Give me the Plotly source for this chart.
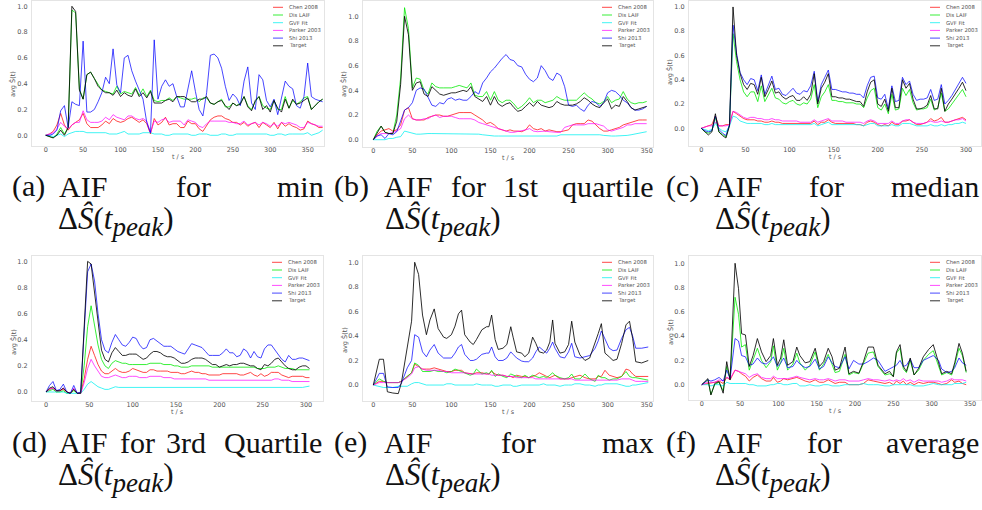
import plotly.graph_objects as go

# ---------------------------------------------------------------------------
# Average normalised signal curves  avg Ŝ(t)  for six AIF selections
# ---------------------------------------------------------------------------
SERIES = ["Chen 2008", "Dis LAIF", "GVF Fit", "Parker 2003", "Shi 2013", "Target"]

# (a) AIF for min  -- time grid in seconds
T_A = list(range(0, 371, 5))
A_CHEN = [0, 0.01, 0.03, 0.08, 0.17, 0.08, 0.04, 0.08, 0.1, 0.12,
          0.17, 0.09, 0.06, 0.06, 0.06, 0.08, 0.11, 0.09, 0.13, 0.11,
          0.1, 0.11, 0.13, 0.14, 0.12, 0.1, 0.12, 0.09, 0.01, 0.13,
          0.08, 0.1, 0.14, 0.08, 0.09, 0.09, 0.06, 0.06, 0.11, 0.09,
          0.09, 0.05, 0.03, 0.08, 0.12, 0.14, 0.15, 0.15, 0.13, 0.12,
          0.1, 0.1, 0.08, 0.1, 0.07, 0.09, 0.1, 0.06, 0.1, 0.08,
          0.06, 0.1, 0.05, 0.1, 0.07, 0.09, 0.07, 0.06, 0.04, 0.05,
          0.11, 0.09, 0.08, 0.06, 0.06]
A_DIS = [0, -0.01, -0.02, 0.01, 0.06, 0.01, 0.06, 0.97, 0.95, 0.36,
         0.28, 0.47, 0.49, 0.44, 0.39, 0.35, 0.34, 0.33, 0.32, 0.38,
         0.32, 0.34, 0.33, 0.32, 0.37, 0.31, 0.36, 0.3, 0.35, 0.27,
         0.26, 0.27, 0.27, 0.29, 0.27, 0.3, 0.29, 0.28, 0.28, 0.28,
         0.29, 0.26, 0.29, 0.29, 0.25, 0.24, 0.26, 0.28, 0.22, 0.22,
         0.25, 0.23, 0.25, 0.3, 0.23, 0.2, 0.26, 0.3, 0.23, 0.21,
         0.2, 0.27, 0.2, 0.2, 0.3, 0.21, 0.27, 0.24, 0.26, 0.29,
         0.3, 0.2, 0.23, 0.26, 0.28]
A_GVF = [0, 0.0, -0.01, 0.0, 0.01, -0.01, 0.01, 0.02, 0.03, 0.03,
         0.03, 0.02, 0.02, 0.02, 0.02, 0.02, 0.02, 0.01, 0.01, 0.01,
         0.02, 0.03, 0.01, 0.01, 0.01, 0.01, 0.02, 0.02, 0.02, 0.01,
         0.01, 0.01, 0.0, 0.0, 0.01, 0.01, 0.01, 0.01, 0.01, 0.0,
         0.0, 0.01, 0.01, 0.01, 0.0, 0.0, 0.0, 0.01, 0.01, 0.0,
         0.0, 0.01, 0.01, 0.01, 0.01, 0.01, 0.01, 0.01, 0.01, 0.01,
         0.0, 0.0, 0.01, 0.01, 0.0, 0.01, 0.01, 0.01, 0.01, 0.01,
         0.02, 0.0, 0.01, 0.02, 0.04]
A_PARKER = [0, 0.01, 0.02, 0.05, 0.1, 0.07, 0.05, 0.08, 0.1, 0.1,
            0.19, 0.12, 0.1, 0.1, 0.1, 0.11, 0.14, 0.12, 0.16, 0.14,
            0.13, 0.12, 0.15, 0.15, 0.13, 0.12, 0.13, 0.11, 0.02, 0.11,
            0.1, 0.12, 0.13, 0.1, 0.11, 0.11, 0.11, 0.08, 0.12, 0.11,
            0.1, 0.07, 0.06, 0.09, 0.11, 0.11, 0.11, 0.11, 0.11, 0.1,
            0.1, 0.09, 0.09, 0.11, 0.08, 0.09, 0.1, 0.08, 0.1, 0.09,
            0.07, 0.09, 0.07, 0.1, 0.09, 0.1, 0.09, 0.08, 0.06, 0.06,
            0.1, 0.09, 0.08, 0.07, 0.07]
A_SHI = [0, 0.0, 0.01, 0.04, 0.19, 0.23, 0.06, 0.26, 0.24, 0.23,
         0.73, 0.18, 0.18, 0.2, 0.26, 0.33, 0.45, 0.4, 0.67, 0.39,
         0.33, 0.6, 0.62, 0.5, 0.42, 0.35, 0.28, 0.1, 0.02, 0.74,
         0.28, 0.38, 0.43, 0.38, 0.4, 0.3, 0.22, 0.22, 0.35, 0.5,
         0.34, 0.2, 0.15, 0.33, 0.62, 0.63, 0.6, 0.52, 0.38, 0.27,
         0.32, 0.29, 0.23, 0.42, 0.53, 0.25, 0.2, 0.47, 0.43, 0.27,
         0.22, 0.28, 0.16, 0.3, 0.42, 0.38, 0.36, 0.23, 0.21, 0.3,
         0.56, 0.3, 0.28, 0.27, 0.26]
A_TARGET = [0, -0.01, -0.02, 0.0, 0.04, 0.0, 0.06, 1.0, 0.96, 0.35,
            0.28, 0.47, 0.49, 0.44, 0.38, 0.35, 0.33, 0.33, 0.31, 0.35,
            0.3, 0.33, 0.31, 0.3, 0.36, 0.3, 0.33, 0.29, 0.34, 0.25,
            0.25, 0.25, 0.27, 0.28, 0.26, 0.3, 0.3, 0.3, 0.28, 0.26,
            0.26, 0.28, 0.28, 0.3, 0.25, 0.24, 0.26, 0.27, 0.23, 0.2,
            0.25, 0.23, 0.24, 0.3, 0.22, 0.19, 0.27, 0.3, 0.2, 0.23,
            0.18, 0.27, 0.21, 0.18, 0.28, 0.21, 0.28, 0.24, 0.25, 0.27,
            0.29, 0.2, 0.23, 0.26, 0.28]

# (b) AIF for 1st quartile
T_B = list(range(0, 351, 5))
B_CHEN = [0, 0.04, 0.07, 0.08, 0.09, 0.07, 0.08, 0.12, 0.24, 0.26,
          0.17, 0.16, 0.16, 0.16, 0.18, 0.19, 0.2, 0.2, 0.19, 0.19,
          0.2, 0.21, 0.22, 0.22, 0.22, 0.22, 0.2, 0.18, 0.16, 0.13,
          0.14, 0.12, 0.09, 0.08, 0.07, 0.08, 0.07, 0.07, 0.065, 0.08,
          0.12, 0.09, 0.08, 0.09, 0.07, 0.08, 0.07, 0.065, 0.065, 0.07,
          0.08, 0.12, 0.13, 0.13, 0.13, 0.16, 0.15, 0.12, 0.09, 0.07,
          0.07, 0.08, 0.09, 0.1, 0.12, 0.13, 0.14, 0.155, 0.16, 0.16,
          0.16]
B_DIS = [0, 0.07, 0.11, 0.06, 0.05, 0.05, 0.2, 0.5, 1.07, 0.9,
         0.42, 0.5, 0.49, 0.4, 0.37, 0.46, 0.43, 0.42, 0.42, 0.42,
         0.42, 0.43, 0.44, 0.43, 0.42, 0.46, 0.36, 0.35, 0.35, 0.39,
         0.32, 0.39, 0.32, 0.3, 0.32, 0.32, 0.29, 0.25, 0.27, 0.3,
         0.34, 0.3, 0.32, 0.32, 0.3, 0.31, 0.32, 0.35, 0.33, 0.32,
         0.32, 0.32, 0.32, 0.35, 0.38, 0.35, 0.33, 0.3, 0.29, 0.31,
         0.35, 0.3, 0.32, 0.33, 0.39, 0.33, 0.3, 0.29, 0.3, 0.3,
         0.31]
B_GVF = [0, 0.0, 0.0, 0.0, 0.01, 0.01, 0.02, 0.025, 0.07, 0.06,
         0.05, 0.045, 0.045, 0.05, 0.05, 0.05, 0.05, 0.05, 0.05, 0.05,
         0.05, 0.05, 0.05, 0.05, 0.05, 0.05, 0.045, 0.045, 0.04, 0.035,
         0.03, 0.03, 0.03, 0.03, 0.025, 0.025, 0.025, 0.03, 0.03, 0.03,
         0.03, 0.03, 0.03, 0.03, 0.025, 0.025, 0.03, 0.03, 0.04, 0.04,
         0.04, 0.04, 0.04, 0.04, 0.04, 0.04, 0.045, 0.045, 0.04, 0.035,
         0.03, 0.03, 0.03, 0.03, 0.03, 0.035, 0.04, 0.045, 0.05, 0.06,
         0.065]
B_PARKER = [0, 0.03, 0.05, 0.05, 0.05, 0.06, 0.07, 0.09, 0.17, 0.2,
            0.17, 0.16, 0.16, 0.17, 0.17, 0.19, 0.2, 0.18, 0.19, 0.19,
            0.19, 0.18, 0.17, 0.17, 0.17, 0.17, 0.16, 0.14, 0.13, 0.12,
            0.11, 0.1, 0.09, 0.08, 0.065, 0.06, 0.06, 0.065, 0.07, 0.08,
            0.09, 0.07, 0.065, 0.07, 0.07, 0.065, 0.06, 0.06, 0.06, 0.1,
            0.11, 0.12, 0.12, 0.12, 0.12, 0.13, 0.13, 0.13, 0.12, 0.11,
            0.08, 0.07, 0.08, 0.09, 0.1, 0.12, 0.12, 0.13, 0.13, 0.13,
            0.13]
B_SHI = [0, 0.03, 0.04, 0.01, 0.05, 0.04, 0.065, 0.15, 0.24, 0.26,
         0.3, 0.4, 0.42, 0.41, 0.35, 0.28, 0.27, 0.3, 0.29, 0.33,
         0.34, 0.32, 0.33, 0.32, 0.32, 0.35, 0.39, 0.37, 0.46, 0.5,
         0.55, 0.58, 0.62, 0.66, 0.69, 0.65, 0.64, 0.6, 0.59, 0.53,
         0.49, 0.47, 0.5, 0.6, 0.56, 0.5, 0.48, 0.54, 0.52, 0.43,
         0.28, 0.27, 0.28, 0.25, 0.23, 0.28, 0.31, 0.3, 0.27, 0.3,
         0.38, 0.4, 0.39, 0.36, 0.32, 0.3, 0.26, 0.24, 0.24, 0.25,
         0.27]
B_TARGET = [0, 0.06, 0.11, 0.06, 0.05, 0.05, 0.15, 0.45, 1.0, 0.85,
            0.4, 0.46, 0.47, 0.37, 0.35, 0.43, 0.4, 0.37, 0.36, 0.37,
            0.38, 0.38, 0.39, 0.4, 0.39, 0.43, 0.35, 0.33, 0.31, 0.35,
            0.28, 0.35, 0.29, 0.27, 0.29, 0.3, 0.26, 0.23, 0.24, 0.27,
            0.3, 0.27, 0.31, 0.28, 0.27, 0.26, 0.27, 0.31, 0.29, 0.28,
            0.28, 0.28, 0.29, 0.31, 0.34, 0.32, 0.29, 0.27, 0.26, 0.3,
            0.33, 0.25, 0.28, 0.27, 0.35, 0.31, 0.26, 0.24, 0.25, 0.26,
            0.27]

# (c) AIF for median
T_C = list(range(0, 301, 4))
C_CHEN = [0, 0.01, 0.02, 0.03, 0.1, 0.02, 0.02, 0.03, 0.03, 0.14,
          0.12, 0.1, 0.08, 0.07, 0.07, 0.07, 0.06, 0.06, 0.05, 0.05,
          0.06, 0.05, 0.05, 0.04, 0.04, 0.04, 0.04, 0.04, 0.04, 0.04,
          0.04, 0.04, 0.06, 0.03, 0.05, 0.05, 0.07, 0.05, 0.04, 0.04,
          0.04, 0.04, 0.04, 0.04, 0.03, 0.03, 0.02, 0.05, 0.06, 0.05,
          0.03, 0.02, 0.03, 0.02, 0.05, 0.03, 0.03, 0.06, 0.06, 0.07,
          0.05, 0.03, 0.03, 0.04, 0.05, 0.08, 0.06, 0.07, 0.09, 0.05,
          0.05, 0.06, 0.07, 0.08, 0.09, 0.07]
C_DIS = [0, -0.03, -0.04, -0.02, 0.09, -0.03, -0.05, -0.07, 0.03, 0.78,
         0.55, 0.4, 0.3, 0.26, 0.3, 0.3, 0.22, 0.35, 0.22, 0.27,
         0.33, 0.25, 0.24, 0.21, 0.2, 0.22, 0.23, 0.2, 0.19, 0.21,
         0.2, 0.24, 0.36, 0.17, 0.26, 0.3, 0.36, 0.23, 0.23, 0.22,
         0.22, 0.21, 0.21, 0.21, 0.2, 0.2, 0.17, 0.25, 0.31, 0.33,
         0.17, 0.15, 0.2, 0.12, 0.28, 0.15, 0.16, 0.33, 0.27, 0.32,
         0.21, 0.15, 0.16, 0.16, 0.17, 0.24, 0.15, 0.17, 0.29, 0.14,
         0.16, 0.2, 0.24, 0.28, 0.32, 0.26]
C_GVF = [0, -0.01, -0.02, -0.01, 0.04, 0.0, -0.02, -0.03, 0.02, 0.1,
         0.09, 0.06, 0.05, 0.04, 0.04, 0.04, 0.04, 0.04, 0.03, 0.03,
         0.04, 0.03, 0.03, 0.03, 0.03, 0.03, 0.03, 0.03, 0.03, 0.03,
         0.03, 0.03, 0.04, 0.02, 0.03, 0.04, 0.05, 0.03, 0.03, 0.03,
         0.03, 0.03, 0.03, 0.03, 0.03, 0.03, 0.02, 0.03, 0.04, 0.04,
         0.02, 0.02, 0.02, 0.02, 0.03, 0.02, 0.02, 0.04, 0.04, 0.04,
         0.03, 0.02, 0.02, 0.02, 0.02, 0.03, 0.02, 0.02, 0.03, 0.02,
         0.03, 0.03, 0.04, 0.04, 0.05, 0.04]
C_PARKER = [0, 0.01, 0.02, 0.02, 0.05, 0.02, 0.02, 0.02, 0.03, 0.14,
            0.13, 0.11, 0.09, 0.08, 0.09, 0.09, 0.08, 0.08, 0.07, 0.07,
            0.08, 0.07, 0.07, 0.06, 0.06, 0.06, 0.06, 0.06, 0.05, 0.05,
            0.05, 0.05, 0.07, 0.05, 0.06, 0.07, 0.08, 0.06, 0.06, 0.06,
            0.06, 0.05, 0.05, 0.05, 0.05, 0.05, 0.04, 0.06, 0.07, 0.06,
            0.04, 0.04, 0.04, 0.04, 0.06, 0.04, 0.04, 0.06, 0.07, 0.07,
            0.05, 0.04, 0.04, 0.04, 0.05, 0.06, 0.05, 0.05, 0.06, 0.05,
            0.05, 0.06, 0.07, 0.07, 0.08, 0.06]
C_SHI = [0, -0.02, -0.03, -0.02, 0.1, -0.01, -0.04, -0.06, 0.03, 0.85,
         0.62, 0.46, 0.4, 0.36, 0.41, 0.4, 0.31, 0.44, 0.28, 0.36,
         0.43, 0.32, 0.33, 0.28, 0.27, 0.3, 0.33, 0.29, 0.28, 0.31,
         0.3, 0.35, 0.47, 0.22, 0.36, 0.42, 0.48, 0.32, 0.32, 0.31,
         0.3, 0.3, 0.29, 0.29, 0.28, 0.28, 0.25, 0.35, 0.42, 0.43,
         0.25, 0.24, 0.28, 0.16, 0.35, 0.22, 0.23, 0.42, 0.36, 0.39,
         0.28, 0.23, 0.24, 0.24, 0.25, 0.32, 0.23, 0.24, 0.36, 0.2,
         0.23, 0.27, 0.32, 0.37, 0.42, 0.37]
C_TARGET = [0, -0.03, -0.055, -0.03, 0.12, -0.03, -0.06, -0.08, 0.02, 1.0,
            0.6, 0.45, 0.36, 0.32, 0.37, 0.36, 0.28, 0.42, 0.26, 0.32,
            0.39, 0.29, 0.3, 0.26, 0.24, 0.26, 0.27, 0.23, 0.23, 0.26,
            0.23, 0.28, 0.45, 0.2, 0.33, 0.38, 0.45, 0.26, 0.26, 0.25,
            0.25, 0.24, 0.24, 0.23, 0.22, 0.22, 0.18, 0.3, 0.38, 0.4,
            0.2, 0.18, 0.24, 0.14, 0.33, 0.17, 0.17, 0.4, 0.33, 0.37,
            0.24, 0.16, 0.16, 0.17, 0.19, 0.27, 0.16, 0.16, 0.33, 0.14,
            0.2, 0.24, 0.28, 0.33, 0.38, 0.31]

# (d) AIF for 3rd quartile
T_D = list(range(0, 305, 4))
D_CHEN = [0, 0.02, 0.03, 0.0, 0.01, 0.02, 0.0, -0.01, 0.02, -0.01,
          -0.01, 0.1, 0.25, 0.35, 0.28, 0.21, 0.16, 0.14, 0.14, 0.16,
          0.18, 0.16, 0.15, 0.15, 0.16, 0.18, 0.17, 0.16, 0.15, 0.15,
          0.17, 0.17, 0.16, 0.16, 0.16, 0.16, 0.15, 0.15, 0.15, 0.14,
          0.14, 0.15, 0.16, 0.15, 0.15, 0.14, 0.14, 0.13, 0.13, 0.13,
          0.13, 0.14, 0.14, 0.14, 0.14, 0.14, 0.13, 0.13, 0.14, 0.15,
          0.13, 0.12, 0.14, 0.12, 0.13, 0.15, 0.15, 0.15, 0.13, 0.12,
          0.11, 0.12, 0.12, 0.12, 0.12, 0.11, 0.11]
D_DIS = [0, 0.01, 0.02, 0.0, 0.0, 0.01, -0.01, -0.01, 0.01, -0.01,
         -0.01, 0.2, 0.5, 0.66, 0.5, 0.36, 0.25, 0.2, 0.18, 0.22,
         0.24, 0.23, 0.22, 0.22, 0.21, 0.21, 0.21, 0.21, 0.21, 0.21,
         0.22, 0.22, 0.22, 0.22, 0.21, 0.21, 0.21, 0.2, 0.2, 0.19,
         0.19, 0.19, 0.2, 0.2, 0.2, 0.2, 0.2, 0.2, 0.19, 0.19,
         0.19, 0.19, 0.19, 0.19, 0.19, 0.19, 0.19, 0.19, 0.19, 0.19,
         0.19, 0.18, 0.18, 0.18, 0.19, 0.19, 0.19, 0.2, 0.19, 0.18,
         0.18, 0.18, 0.17, 0.17, 0.17, 0.17, 0.17]
D_GVF = [0, 0.0, 0.0, 0.0, 0.0, 0.0, -0.01, -0.01, -0.01, -0.01,
         -0.01, 0.02, 0.06, 0.08, 0.06, 0.04, 0.03, 0.02, 0.02, 0.03,
         0.04, 0.035, 0.035, 0.035, 0.035, 0.035, 0.035, 0.035, 0.03, 0.03,
         0.035, 0.035, 0.035, 0.035, 0.035, 0.035, 0.035, 0.03, 0.03, 0.03,
         0.03, 0.03, 0.03, 0.03, 0.03, 0.03, 0.03, 0.03, 0.03, 0.03,
         0.03, 0.03, 0.03, 0.03, 0.03, 0.03, 0.03, 0.03, 0.03, 0.03,
         0.03, 0.03, 0.03, 0.03, 0.03, 0.03, 0.03, 0.03, 0.03, 0.03,
         0.03, 0.03, 0.03, 0.035, 0.035, 0.04, 0.045]
D_PARKER = [0, 0.02, 0.03, 0.01, 0.01, 0.03, 0.0, -0.01, 0.03, -0.01,
            -0.01, 0.07, 0.18, 0.25, 0.2, 0.16, 0.12, 0.11, 0.11, 0.12,
            0.13, 0.12, 0.11, 0.11, 0.12, 0.12, 0.12, 0.11, 0.11, 0.11,
            0.12, 0.12, 0.12, 0.12, 0.11, 0.11, 0.11, 0.1, 0.1, 0.1,
            0.1, 0.1, 0.1, 0.1, 0.1, 0.1, 0.1, 0.09, 0.09, 0.09,
            0.09, 0.09, 0.09, 0.09, 0.09, 0.09, 0.09, 0.09, 0.09, 0.09,
            0.09, 0.09, 0.09, 0.09, 0.09, 0.09, 0.1, 0.1, 0.09, 0.09,
            0.09, 0.08, 0.08, 0.08, 0.08, 0.08, 0.08]
D_SHI = [0, 0.05, 0.08, 0.01, 0.02, 0.06, 0.0, -0.01, 0.05, -0.01,
         0.0, 0.5, 0.92, 0.98, 0.85, 0.6, 0.4, 0.32, 0.3, 0.38,
         0.44, 0.4, 0.36, 0.35, 0.38, 0.42, 0.41, 0.36, 0.33, 0.34,
         0.4, 0.41, 0.39, 0.37, 0.35, 0.35, 0.35, 0.33, 0.31, 0.3,
         0.29, 0.33, 0.37, 0.36, 0.35, 0.34, 0.31, 0.28, 0.28, 0.28,
         0.28, 0.3, 0.33, 0.3, 0.3, 0.27, 0.28, 0.33, 0.31, 0.26,
         0.31, 0.27, 0.26, 0.33, 0.36, 0.36, 0.32, 0.28, 0.25, 0.23,
         0.28, 0.25, 0.25, 0.26, 0.26, 0.25, 0.24]
D_TARGET = [0, 0.03, 0.04, 0.01, 0.01, 0.03, 0.0, -0.01, 0.02, -0.01,
            -0.01, 0.5, 1.0, 0.98, 0.75, 0.5, 0.32, 0.25, 0.23, 0.3,
            0.34, 0.31, 0.28, 0.28, 0.29, 0.29, 0.29, 0.27, 0.25, 0.26,
            0.29, 0.31, 0.31, 0.3, 0.28, 0.27, 0.27, 0.26, 0.24, 0.22,
            0.22, 0.23, 0.25, 0.26, 0.26, 0.26, 0.25, 0.23, 0.21, 0.21,
            0.19, 0.2, 0.21, 0.2, 0.21, 0.21, 0.22, 0.22, 0.21, 0.2,
            0.2, 0.18, 0.17, 0.21, 0.2, 0.22, 0.25, 0.26, 0.23, 0.2,
            0.18, 0.17, 0.17, 0.19, 0.2, 0.2, 0.18]

# (e) AIF for max
T_E = [0, 7.7, 13, 18, 25, 32, 36, 43.5, 49, 53,
       58, 63, 68, 72.5, 78, 83, 90, 94, 100, 104.6,
       109, 113, 117, 124, 128, 132, 139, 145, 148, 151.5,
       156, 160, 166, 171, 176, 179, 183.5, 190, 194, 199,
       204, 208, 212.5, 218, 222, 226, 229.6, 232.6, 239, 245,
       250, 254, 258, 264.6, 271, 277, 284, 288, 292, 296.6,
       302, 307, 312, 318, 323.5, 328, 332, 336, 343.6, 352]
E_CHEN = [0, 0.03, 0.03, 0.02, 0.02, 0.02, 0.03, 0.07, 0.1, 0.17,
          0.15, 0.13, 0.13, 0.13, 0.14, 0.13, 0.12, 0.11, 0.11, 0.12,
          0.12, 0.12, 0.1, 0.09, 0.09, 0.1, 0.1, 0.09, 0.09, 0.11,
          0.09, 0.08, 0.08, 0.07, 0.07, 0.06, 0.08, 0.07, 0.07, 0.06,
          0.07, 0.08, 0.1, 0.08, 0.07, 0.06, 0.07, 0.08, 0.05, 0.05,
          0.05, 0.06, 0.07, 0.08, 0.06, 0.05, 0.05, 0.07, 0.07, 0.12,
          0.08, 0.07, 0.06, 0.07, 0.13, 0.12, 0.09, 0.07, 0.07, 0.07]
E_DIS = [0, 0.05, 0.03, 0.02, 0.02, 0.02, 0.03, 0.07, 0.1, 0.18,
         0.16, 0.11, 0.11, 0.11, 0.12, 0.11, 0.11, 0.1, 0.11, 0.13,
         0.12, 0.11, 0.1, 0.08, 0.09, 0.13, 0.09, 0.1, 0.09, 0.12,
         0.07, 0.09, 0.07, 0.06, 0.09, 0.08, 0.07, 0.06, 0.08, 0.06,
         0.08, 0.07, 0.06, 0.07, 0.06, 0.08, 0.1, 0.08, 0.06, 0.05,
         0.06, 0.09, 0.05, 0.05, 0.09, 0.05, 0.03, 0.08, 0.06, 0.06,
         0.04, 0.05, 0.05, 0.07, 0.11, 0.07, 0.06, 0.06, 0.05, 0.04]
E_GVF = [0, -0.01, -0.02, -0.02, -0.02, -0.01, -0.01, -0.01, 0.01, 0.02,
         0.02, 0.01, 0.0, 0.0, 0.0, 0.0, 0.0, 0.01, 0.01, 0.0,
         0.0, 0.0, 0.0, 0.0, 0.0, 0.01, 0.0, 0.0, 0.0, 0.0,
         -0.01, -0.01, 0.0, 0.0, 0.0, -0.01, -0.01, 0.0, 0.0, 0.0,
         0.0, 0.0, 0.0, 0.01, 0.0, 0.0, 0.0, 0.0, -0.01, 0.0,
         0.0, 0.0, 0.01, 0.01, 0.0, 0.0, -0.01, 0.0, 0.0, 0.01,
         0.01, 0.01, 0.01, 0.0, -0.01, -0.01, 0.0, 0.0, 0.01, 0.02]
E_PARKER = [0, 0.02, 0.02, 0.02, 0.02, 0.02, 0.03, 0.06, 0.09, 0.14,
            0.15, 0.13, 0.12, 0.12, 0.12, 0.12, 0.11, 0.11, 0.1, 0.1,
            0.1, 0.1, 0.1, 0.09, 0.09, 0.09, 0.09, 0.09, 0.09, 0.08,
            0.08, 0.08, 0.08, 0.07, 0.07, 0.07, 0.06, 0.06, 0.06, 0.06,
            0.06, 0.05, 0.05, 0.05, 0.05, 0.05, 0.05, 0.05, 0.05, 0.05,
            0.05, 0.05, 0.04, 0.04, 0.04, 0.04, 0.04, 0.04, 0.04, 0.04,
            0.04, 0.04, 0.04, 0.05, 0.05, 0.05, 0.04, 0.03, 0.03, 0.03]
E_SHI = [0, 0.095, 0.095, -0.015, -0.02, -0.02, 0.015, 0.14, 0.2, 0.41,
         0.39, 0.27, 0.23, 0.285, 0.33, 0.26, 0.22, 0.22, 0.22, 0.26,
         0.31, 0.33, 0.25, 0.2, 0.2, 0.21, 0.25, 0.26, 0.26, 0.31,
         0.23, 0.2, 0.2, 0.22, 0.27, 0.25, 0.22, 0.195, 0.19, 0.19,
         0.22, 0.27, 0.31, 0.28, 0.26, 0.3, 0.35, 0.3, 0.23, 0.22,
         0.27, 0.34, 0.23, 0.22, 0.23, 0.24, 0.3, 0.36, 0.44, 0.38,
         0.3, 0.28, 0.285, 0.38, 0.45, 0.47, 0.4, 0.3, 0.3, 0.31]
E_TARGET = [0, 0.21, 0.21, -0.055, -0.065, -0.07, 0.02, 0.33, 0.52, 1.0,
            0.9, 0.57, 0.41, 0.53, 0.62, 0.46, 0.39, 0.38, 0.41, 0.48,
            0.58, 0.61, 0.41, 0.35, 0.33, 0.37, 0.45, 0.475, 0.475, 0.57,
            0.37, 0.29, 0.3, 0.33, 0.475, 0.39, 0.27, 0.26, 0.23, 0.26,
            0.39, 0.34, 0.27, 0.26, 0.285, 0.35, 0.53, 0.34, 0.26, 0.27,
            0.33, 0.52, 0.35, 0.245, 0.2, 0.22, 0.34, 0.42, 0.5, 0.26,
            0.23, 0.2, 0.21, 0.34, 0.49, 0.52, 0.38, 0.19, 0.18, 0.2]

# (f) AIF for average
T_F = [0, 8, 12, 17, 22.6, 28, 32.6, 37, 43.5, 48,
       52, 57, 62, 67, 72.6, 78, 84, 90, 93.5, 98.7,
       103, 107, 112, 119, 124, 128, 135, 141, 148, 153.5,
       159, 165, 170, 174, 179.6, 187, 192, 198, 205, 211,
       217, 224, 230, 239, 245, 250, 254, 258.7, 263, 267,
       272, 277, 283, 289, 296, 302, 309, 313, 319.6, 326,
       330, 335.6, 340, 345]
F_CHEN = [0, 0.01, 0.01, 0.02, 0.03, 0.01, 0.06, 0.04, 0.12, 0.11,
          0.09, 0.07, 0.03, 0.06, 0.08, 0.05, 0.03, 0.03, 0.06, 0.02,
          0.03, 0.05, 0.04, 0.05, 0.06, 0.05, 0.03, 0.02, 0.04, 0.02,
          0.02, 0.04, 0.02, 0.01, 0.02, 0.02, 0.0, 0.0, 0.0, 0.01,
          0.04, 0.03, 0.02, 0.01, 0.02, 0.0, 0.03, 0.01, 0.03, 0.0,
          0.02, 0.0, 0.02, 0.01, 0.02, 0.02, 0.01, 0.0, 0.01, 0.04,
          0.02, 0.03, 0.01, 0.0]
F_DIS = [0, 0.04, -0.08, 0.0, 0.02, -0.05, 0.15, 0.05, 0.72, 0.58,
         0.31, 0.33, 0.12, 0.2, 0.3, 0.2, 0.14, 0.19, 0.32, 0.12,
         0.18, 0.3, 0.12, 0.17, 0.26, 0.18, 0.12, 0.16, 0.27, 0.12,
         0.17, 0.25, 0.16, 0.1, 0.11, 0.25, 0.08, 0.1, 0.09, 0.17,
         0.26, 0.27, 0.15, 0.08, 0.09, 0.07, 0.26, 0.3, 0.13, 0.1,
         0.2, 0.08, 0.12, 0.2, 0.25, 0.28, 0.16, 0.08, 0.1, 0.08,
         0.16, 0.3, 0.24, 0.1]
F_GVF = [0, 0.0, -0.01, 0.0, 0.0, -0.01, 0.02, 0.01, 0.01, 0.01,
         0.01, 0.01, 0.0, 0.0, -0.01, -0.01, -0.01, 0.0, 0.0, 0.01,
         0.01, 0.0, 0.0, 0.01, 0.01, -0.01, -0.01, 0.0, -0.01, -0.01,
         0.0, 0.0, -0.01, -0.01, -0.01, 0.0, 0.0, 0.0, 0.0, 0.01,
         0.0, 0.0, 0.0, -0.01, -0.01, 0.0, 0.0, 0.0, 0.0, 0.0,
         0.0, -0.01, -0.01, -0.01, 0.0, 0.01, 0.0, 0.0, 0.0, 0.0,
         0.01, 0.01, 0.01, 0.02]
F_PARKER = [0, 0.02, 0.02, 0.02, 0.04, 0.03, 0.06, 0.05, 0.12, 0.11,
            0.1, 0.09, 0.06, 0.08, 0.09, 0.06, 0.05, 0.05, 0.07, 0.05,
            0.05, 0.05, 0.05, 0.06, 0.07, 0.06, 0.05, 0.04, 0.05, 0.04,
            0.04, 0.05, 0.04, 0.03, 0.04, 0.04, 0.03, 0.03, 0.03, 0.04,
            0.05, 0.04, 0.04, 0.03, 0.04, 0.03, 0.04, 0.03, 0.05, 0.03,
            0.04, 0.02, 0.04, 0.03, 0.03, 0.03, 0.03, 0.02, 0.03, 0.05,
            0.04, 0.04, 0.04, 0.03]
F_SHI = [0, 0.04, 0.03, 0.04, 0.06, 0.03, 0.12, 0.05, 0.38, 0.36,
         0.24, 0.23, 0.16, 0.17, 0.22, 0.18, 0.17, 0.2, 0.23, 0.15,
         0.18, 0.22, 0.14, 0.15, 0.2, 0.17, 0.14, 0.15, 0.21, 0.13,
         0.15, 0.23, 0.18, 0.15, 0.14, 0.23, 0.13, 0.2, 0.17, 0.17,
         0.19, 0.22, 0.2, 0.11, 0.13, 0.15, 0.16, 0.2, 0.15, 0.16,
         0.21, 0.14, 0.14, 0.2, 0.22, 0.24, 0.2, 0.13, 0.1, 0.11,
         0.14, 0.22, 0.18, 0.16]
F_TARGET = [0, 0.05, -0.085, 0.01, 0.025, -0.07, 0.19, 0.04, 1.0, 0.79,
            0.42, 0.41, 0.15, 0.24, 0.38, 0.27, 0.19, 0.24, 0.38, 0.16,
            0.22, 0.37, 0.16, 0.19, 0.31, 0.24, 0.18, 0.19, 0.3, 0.15,
            0.19, 0.3, 0.23, 0.12, 0.135, 0.31, 0.09, 0.11, 0.095, 0.19,
            0.31, 0.31, 0.16, 0.09, 0.11, 0.065, 0.27, 0.33, 0.15, 0.11,
            0.22, 0.08, 0.135, 0.23, 0.29, 0.33, 0.18, 0.09, 0.11, 0.09,
            0.18, 0.34, 0.26, 0.11]

X_TICKS_350 = [0, 50, 100, 150, 200, 250, 300, 350]
X_TICKS_300 = [0, 50, 100, 150, 200, 250, 300]
Y_TICKS = [0.0, 0.2, 0.4, 0.6, 0.8, 1.0]

# ---------------------------------------------------------------------------
# Styling
# ---------------------------------------------------------------------------
W, H = 982, 510
LINE_COLORS = {
    "Chen 2008": "rgba(255,0,0,0.72)",
    "Dis LAIF": "rgba(0,235,0,0.78)",
    "GVF Fit": "rgba(0,240,240,0.75)",
    "Parker 2003": "rgba(255,0,255,0.7)",
    "Shi 2013": "rgba(0,0,255,0.72)",
    "Target": "rgba(0,0,0,0.82)",
}
TICK_FONT = dict(family="DejaVu Sans", size=6.5, color="#555555")
FRAME = "#e4e4e4"
SERIF = "Liberation Serif"

# panel placement in pixels (frame box) and axis ranges
PANELS = [
    dict(t=T_A, ys=[A_CHEN, A_DIS, A_GVF, A_PARKER, A_SHI, A_TARGET],
         box=(32, 324, 1, 146), xr=[-18.3, 371.8], yr=[-0.083, 1.041],
         xt=X_TICKS_350, ylab_y=84),
    dict(t=T_B, ys=[B_CHEN, B_DIS, B_GVF, B_PARKER, B_SHI, B_TARGET],
         box=(363, 653, 1, 147), xr=[-13.2, 358.1], yr=[-0.059, 1.124],
         xt=X_TICKS_350, ylab_y=84),
    dict(t=T_C, ys=[C_CHEN, C_DIS, C_GVF, C_PARKER, C_SHI, C_TARGET],
         box=(689, 981, 1, 146), xr=[-13.9, 317.0], yr=[-0.146, 1.049],
         xt=X_TICKS_300, ylab_y=72),
    dict(t=T_D, ys=[D_CHEN, D_DIS, D_GVF, D_PARKER, D_SHI, D_TARGET],
         box=(32, 323, 256, 401), xr=[-16.2, 319.6], yr=[-0.069, 1.041],
         xt=X_TICKS_300, ylab_y=342),
    dict(t=T_E, ys=[E_CHEN, E_DIS, E_GVF, E_PARKER, E_SHI, E_TARGET],
         box=(363, 653, 256, 401), xr=[-13.2, 358.1], yr=[-0.13, 1.051],
         xt=X_TICKS_350, ylab_y=340),
    dict(t=T_F, ys=[F_CHEN, F_DIS, F_GVF, F_PARKER, F_SHI, F_TARGET],
         box=(689, 981, 256, 400), xr=[-16.6, 364.3], yr=[-0.126, 1.06],
         xt=X_TICKS_350, ylab_y=332),
]


def fx(px):
    return px / W


def fy(px):
    return 1 - px / H


fig = go.Figure()
shapes = []
annotations = []

for i, p in enumerate(PANELS, start=1):
    suffix = "" if i == 1 else str(i)
    left, right, top, bottom = p["box"]
    for name, vals in zip(SERIES, p["ys"]):
        fig.add_trace(go.Scatter(
            x=p["t"], y=vals, mode="lines", name=name,
            line=dict(color=LINE_COLORS[name], width=1),
            xaxis="x" + suffix, yaxis="y" + suffix,
            showlegend=False, hoverinfo="skip",
        ))
    fig.layout["xaxis" + suffix] = dict(
        domain=[fx(left), fx(right)], range=p["xr"], anchor="y" + suffix,
        showline=True, mirror=True, linecolor=FRAME, linewidth=1,
        showgrid=False, zeroline=False, ticks="",
        tickvals=p["xt"], tickfont=TICK_FONT, ticklabelstandoff=-3,
    )
    fig.layout["yaxis" + suffix] = dict(
        domain=[fy(bottom), fy(top)], range=p["yr"], anchor="x" + suffix,
        showline=True, mirror=True, linecolor=FRAME, linewidth=1,
        showgrid=False, zeroline=False, ticks="",
        tickvals=Y_TICKS, tickformat=".1f", tickfont=TICK_FONT,
        ticklabelstandoff=2,
    )
    # axis titles
    annotations.append(dict(
        text="t / s", x=fx((left + right) / 2), y=fy(bottom + 11),
        xref="paper", yref="paper", showarrow=False,
        xanchor="center", yanchor="middle", font=TICK_FONT,
    ))
    annotations.append(dict(
        text="avg Ŝ(t)", x=fx(left - 19), y=fy(p["ylab_y"]),
        xref="paper", yref="paper", showarrow=False, textangle=-90,
        xanchor="center", yanchor="middle", font=TICK_FONT,
    ))
    # legend in the upper right corner of each panel
    for k, name in enumerate(SERIES):
        ry = top + 6.3 + k * 7.7
        shapes.append(dict(
            type="line", xref="paper", yref="paper",
            x0=fx(right - 51), x1=fx(right - 41), y0=fy(ry), y1=fy(ry),
            line=dict(color=LINE_COLORS[name], width=1),
        ))
        annotations.append(dict(
            text=name, x=fx(right - 37.5), y=fy(ry),
            xref="paper", yref="paper", showarrow=False,
            xanchor="left", yanchor="middle",
            font=dict(family="DejaVu Sans", size=5.3, color="#555555"),
        ))

# sub-figure captions (justified words placed individually)
CAP_FONT = dict(family=SERIF, size=30, color="#111111")
ROW1, ROW2, ROW3, ROW4 = 186, 221, 442, 477
caption_words = [
    ("(a)", 10, ROW1, "left"), ("AIF", 57, ROW1, "left"),
    ("for", 193, ROW1, "center"), ("min", 326, ROW1, "right"),
    ("(b)", 332, ROW1, "left"), ("AIF", 382, ROW1, "left"),
    ("for", 468, ROW1, "center"), ("1st", 521, ROW1, "center"),
    ("quartile", 656, ROW1, "right"),
    ("(c)", 664, ROW1, "left"), ("AIF", 712, ROW1, "left"),
    ("for", 826, ROW1, "center"), ("median", 981, ROW1, "right"),
    ("(d)", 10, ROW3, "left"), ("AIF", 57, ROW3, "left"),
    ("for", 137, ROW3, "center"), ("3rd", 186, ROW3, "center"),
    ("Quartile", 324, ROW3, "right"),
    ("(e)", 332, ROW3, "left"), ("AIF", 382, ROW3, "left"),
    ("for", 518, ROW3, "center"), ("max", 656, ROW3, "right"),
    ("(f)", 664, ROW3, "left"), ("AIF", 712, ROW3, "left"),
    ("for", 824, ROW3, "center"), ("average", 981, ROW3, "right"),
]
for word, x, y, anchor in caption_words:
    annotations.append(dict(
        text=word, x=fx(x), y=fy(y), xref="paper", yref="paper",
        showarrow=False, xanchor=anchor, yanchor="middle", font=CAP_FONT,
    ))

MATH = ("Δ<i>Ŝ</i>(<i>t</i><sub><span style='font-size:27px'>"
        "<i>peak</i></span></sub>)")
for x, y in [(56, ROW2), (383, ROW2), (713, ROW2), (56, ROW4), (383, ROW4), (713, ROW4)]:
    annotations.append(dict(
        text=MATH, x=fx(x), y=fy(y), xref="paper", yref="paper",
        showarrow=False, xanchor="left", yanchor="middle",
        font=dict(family=SERIF, size=31, color="#111111"),
    ))

fig.update_layout(
    width=W, height=H, margin=dict(l=0, r=0, t=0, b=0),
    paper_bgcolor="white", plot_bgcolor="white",
    shapes=shapes, annotations=annotations, showlegend=False,
)

fig.write_html("out.html", config={"displayModeBar": False})
